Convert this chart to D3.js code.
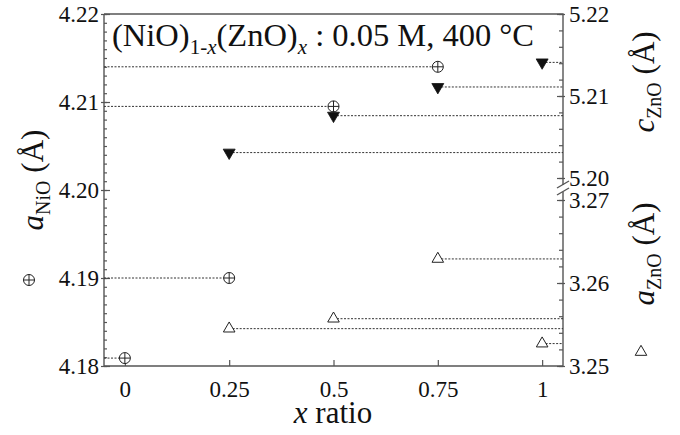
<!DOCTYPE html>
<html>
<head>
<meta charset="utf-8">
<script src="https://cdn.jsdelivr.net/npm/d3@7"></script>
<style>
  html, body { margin: 0; padding: 0; background: #fff; }
  svg { display: block; }
</style>
</head>
<body>
<svg id="chart" width="680" height="435"></svg>
<script>
// Lattice parameters of (NiO)1-x(ZnO)x films
const xNiO = [0, 0.25, 0.5, 0.75];
const aNiO = [4.1809, 4.1900, 4.2095, 4.2140];

const xZnO = [0.25, 0.5, 0.75, 1];
const cZnO = [5.2031, 5.2076, 5.2111, 5.2141];
const aZnO = [3.2545, 3.2557, 3.2629, 3.2527];

const xTicks = [0, 0.25, 0.5, 0.75, 1];
const xTickLabels = ["0", "0.25", "0.5", "0.75", "1"];
const aNiOTicks = [4.18, 4.19, 4.20, 4.21, 4.22];
const cZnOTicks = [5.20, 5.21, 5.22];
const aZnOTicks = [3.25, 3.26, 3.27];

const FONT = "Liberation Serif, DejaVu Serif, serif";
const svg = d3.select("#chart").attr("font-family", FONT);
const axisColor = "#555";

const plotL = 104, plotR = 563, plotT = 14, plotB = 366;
const breakTop = 185, breakBottom = 192;

const x = d3.scaleLinear().domain([-0.05, 1.05]).range([plotL, plotR]);
const yNiO = d3.scaleLinear().domain([4.18, 4.22]).range([plotB, plotT]);
const yC = d3.scaleLinear().domain([5.20, 5.22]).range([178, plotT]);
const yA = d3.scaleLinear().domain([3.25, 3.27]).range([plotB, 200]);

function styleAxis(g) {
  g.attr("font-family", FONT).attr("font-size", 23);
  g.select(".domain").remove();
  g.selectAll(".tick line").attr("stroke", axisColor).attr("stroke-width", 1.2);
  g.selectAll(".tick text").attr("fill", "#111");
}

// left axis (a_NiO): minor every 0.001, major every 0.01
svg.append("g").attr("transform", `translate(${plotL},0)`)
  .call(d3.axisLeft(yNiO).tickValues(d3.range(0, 41).map(i => 4.18 + i * 0.001)).tickSize(-3).tickFormat(""))
  .call(styleAxis);
svg.append("g").attr("transform", `translate(${plotL},0)`)
  .call(d3.axisLeft(yNiO).tickValues(aNiOTicks).tickSize(-6).tickPadding(5).tickFormat(d3.format(".2f")))
  .call(styleAxis)
  .call(g => g.selectAll(".tick line").attr("x1", -3));

// right axis, upper part (c_ZnO)
svg.append("g").attr("transform", `translate(${plotR},0)`)
  .call(d3.axisRight(yC).tickValues(d3.range(0, 11).map(i => 5.20 + i * 0.002)).tickSize(-4).tickFormat(""))
  .call(styleAxis);
svg.append("g").attr("transform", `translate(${plotR},0)`)
  .call(d3.axisRight(yC).tickValues(cZnOTicks).tickSize(-6).tickPadding(6).tickFormat(d3.format(".2f")))
  .call(styleAxis)
  .call(g => g.selectAll(".tick line").attr("x1", 2));

// right axis, lower part (a_ZnO)
svg.append("g").attr("transform", `translate(${plotR},0)`)
  .call(d3.axisRight(yA).tickValues(d3.range(0, 11).map(i => 3.25 + i * 0.002)).tickSize(-4).tickFormat(""))
  .call(styleAxis);
svg.append("g").attr("transform", `translate(${plotR},0)`)
  .call(d3.axisRight(yA).tickValues(aZnOTicks).tickSize(-6).tickPadding(6).tickFormat(d3.format(".2f")))
  .call(styleAxis)
  .call(g => g.selectAll(".tick line").attr("x1", 2));

// bottom axis
svg.append("g").attr("transform", `translate(0,${plotB})`)
  .call(d3.axisBottom(x).tickValues(xTicks).tickSize(-6).tickPadding(15)
    .tickFormat((d, i) => xTickLabels[i]))
  .call(styleAxis);

// frame
const frame = svg.append("g").attr("stroke", axisColor).attr("stroke-width", 1.4).attr("fill", "none");
frame.append("path").attr("d", `M${plotL},${plotT}H${plotR}V${breakTop}`);
frame.append("path").attr("d", `M${plotR},${breakBottom}V${plotB}H${plotL}V${plotT}`);
// axis break marks
frame.append("line").attr("x1", plotR - 6).attr("y1", breakTop + 3).attr("x2", plotR + 6).attr("y2", breakTop - 4);
frame.append("line").attr("x1", plotR - 6).attr("y1", breakBottom + 3).attr("x2", plotR + 6).attr("y2", breakBottom - 4);

// dotted guide lines
const guides = svg.append("g").attr("stroke", "#333").attr("stroke-width", 1)
  .attr("stroke-dasharray", "2,1.5").attr("fill", "none");
xNiO.forEach((xv, i) => {
  guides.append("line").attr("x1", plotL).attr("x2", x(xv))
    .attr("y1", yNiO(aNiO[i])).attr("y2", yNiO(aNiO[i]));
});
xZnO.forEach((xv, i) => {
  guides.append("line").attr("x1", x(xv)).attr("x2", plotR)
    .attr("y1", yC(cZnO[i])).attr("y2", yC(cZnO[i]));
  guides.append("line").attr("x1", x(xv)).attr("x2", plotR)
    .attr("y1", yA(aZnO[i])).attr("y2", yA(aZnO[i]));
});

// markers
const circlePlus = r => `M${-r},0A${r},${r} 0 1,0 ${r},0A${r},${r} 0 1,0 ${-r},0M${-r},0H${r}M0,${-r}V${r}`;
const tri = d3.symbol().type(d3.symbolTriangle);

function drawCirclePlus(g, cx, cy) {
  g.append("path").attr("d", circlePlus(5.5)).attr("transform", `translate(${cx},${cy})`)
    .attr("fill", "#fff").attr("stroke", "#222").attr("stroke-width", 1);
}
function drawOpenTri(g, cx, cy) {
  g.append("path").attr("d", tri.size(58)()).attr("transform", `translate(${cx},${cy})`)
    .attr("fill", "#fff").attr("stroke", "#222").attr("stroke-width", 1);
}
function drawFilledTri(g, cx, cy) {
  g.append("path").attr("d", tri.size(62)()).attr("transform", `translate(${cx},${cy}) rotate(180)`)
    .attr("fill", "#111").attr("stroke", "#111").attr("stroke-width", 0.8);
}

const marks = svg.append("g");
xNiO.forEach((xv, i) => drawCirclePlus(marks, x(xv), yNiO(aNiO[i])));
xZnO.forEach((xv, i) => drawFilledTri(marks, x(xv), yC(cZnO[i])));
xZnO.forEach((xv, i) => drawOpenTri(marks, x(xv), yA(aZnO[i])));

// legend symbols beside the axis titles
drawCirclePlus(svg, 29, 280);
drawOpenTri(svg, 641, 352);

// title
const title = svg.append("text").attr("x", 112).attr("y", 46)
  .attr("font-family", FONT).attr("font-size", 32.5).attr("fill", "#111");
title.append("tspan").text("(NiO)");
title.append("tspan").attr("dy", 8).attr("font-size", 21).text("1-");
title.append("tspan").attr("font-size", 21).attr("font-style", "italic").text("x");
title.append("tspan").attr("dy", -8).text("(ZnO)");
title.append("tspan").attr("dy", 8).attr("font-size", 21).attr("font-style", "italic").text("x");
title.append("tspan").attr("dy", -8).text(" : 0.05 M, 400 °C");

// axis titles
function sideLabel(cx, cy, sym, sub) {
  const t = svg.append("text")
    .attr("transform", `translate(${cx},${cy}) rotate(-90)`)
    .attr("text-anchor", "middle").attr("font-family", FONT).attr("font-size", 31).attr("fill", "#111");
  t.append("tspan").attr("font-style", "italic").text(sym);
  t.append("tspan").attr("dy", 7).attr("font-size", 20).text(sub);
  t.append("tspan").attr("dy", -7).text(" (Å)");
}
sideLabel(43, 180, "a", "NiO");
sideLabel(654, 82, "c", "ZnO");
sideLabel(654, 254, "a", "ZnO");

const xl = svg.append("text").attr("x", 333).attr("y", 423)
  .attr("text-anchor", "middle").attr("font-family", FONT).attr("font-size", 31).attr("fill", "#111");
xl.append("tspan").attr("font-style", "italic").text("x");
xl.append("tspan").text(" ratio");
</script>
</body>
</html>
